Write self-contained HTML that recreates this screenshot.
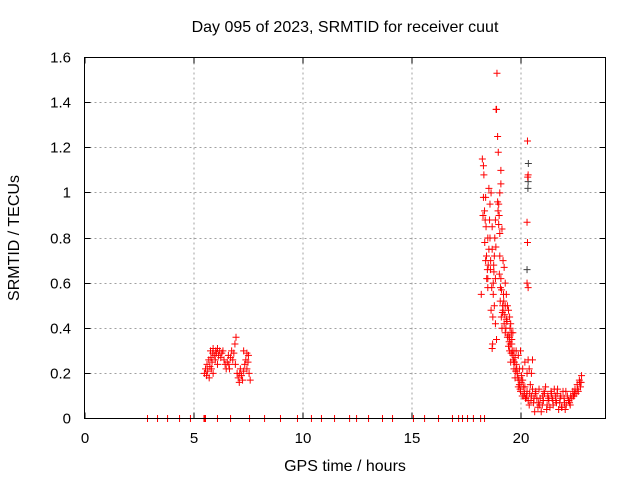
<!DOCTYPE html>
<html><head><meta charset="utf-8"><style>
html,body{margin:0;padding:0;background:#fff;}
svg{display:block;font-family:"Liberation Sans",sans-serif;}
</style></head><body>
<svg id="chart" width="640" height="480" viewBox="0 0 640 480">
<rect width="640" height="480" fill="#fff"/>
<text x="345" y="32" font-size="16" text-anchor="middle">Day 095 of 2023, SRMTID for receiver cuut</text>
<text x="345" y="471" font-size="16" text-anchor="middle">GPS time / hours</text>
<text x="0" y="0" font-size="16" text-anchor="middle" transform="translate(19,238) rotate(-90)">SRMTID / TECUs</text>
<g id="grid"></g><g id="ticks"></g><g id="marks"></g>
<rect x="84.5" y="57.5" width="521" height="361" fill="none" stroke="#000" stroke-width="1"/>
</svg>
<script>
const xTicks=[0,5,10,15,20];
const yTicks=[0,0.2,0.4,0.6,0.8,1,1.2,1.4,1.6];
const yTickLabels=["0","0.2","0.4","0.6","0.8","1","1.2","1.4","1.6"];
const redX=[2.89,3.35,3.81,4.36,4.86,5.48,5.52,5.55,6.1,6.7,7.57,8.26,8.99,9.77,10.41,10.87,11.47,12.16,12.48,13.03,13.67,14.13,15.09,15.6,16.24,16.88,17.16,17.34,17.57,17.84,18.17,18.35,
5.5,5.55,5.6,5.62,5.65,5.7,5.72,5.75,5.78,5.8,5.82,5.85,5.88,5.9,5.95,6.0,6.02,6.05,6.1,6.15,6.2,6.25,6.3,6.35,6.4,6.45,6.5,6.55,6.6,6.62,6.65,6.7,6.75,6.8,6.85,6.9,6.95,6.92,7.0,7.05,7.1,7.12,7.15,7.2,7.25,7.3,7.35,7.4,7.45,7.5,7.52,7.55,7.6,7.3,7.45,6.1,5.9,
18.2,18.25,18.3,18.32,18.35,18.38,18.4,18.42,18.45,18.5,18.52,18.55,18.6,18.62,18.65,18.7,18.72,18.75,18.78,18.8,18.85,18.88,18.9,18.92,18.95,18.98,19.0,19.02,19.05,19.08,19.1,19.12,19.15,19.18,19.2,19.22,19.25,19.3,19.35,19.4,19.45,19.5,19.55,19.58,19.6,19.65,19.7,19.75,19.8,19.85,19.9,19.95,20.0,20.05,20.1,20.15,20.2,20.25,20.3,20.35,
18.95,19.0,19.05,18.7,18.8,18.85,19.2,19.25,19.3,19.35,19.4,19.45,19.5,19.52,19.55,19.6,19.65,19.7,19.75,19.8,18.6,18.65,18.55,19.1,19.05,19.15,18.5,18.4,18.75,18.85,
18.28,18.36,18.44,18.48,18.58,18.63,18.68,18.73,18.77,18.82,18.87,18.97,19.03,19.07,19.13,19.17,19.23,19.28,19.33,19.38,19.43,19.48,19.53,19.57,19.62,19.67,19.72,19.78,19.83,19.88,19.93,19.98,20.03,20.08,20.13,20.18,20.23,20.28,18.3,18.5,18.7,18.9,19.1,19.3,19.5,19.7,
20.32,20.35,20.33,20.3,20.32,20.3,20.35,
20.4,20.5,20.6,20.7,20.8,20.9,21.0,21.1,21.2,21.3,21.4,21.5,21.6,21.7,21.8,21.9,22.0,22.1,22.2,22.3,22.4,22.5,22.6,22.7,22.8,22.75,22.65,20.45,20.55,20.65,20.75,20.85,20.95,21.05,21.15,21.25,21.35,21.45,21.55,21.65,21.75,21.85,21.95,22.05,22.15,22.25,22.35,22.45,22.55,20.2,20.1,20.3,20.4,20.5,20.55,20.35,20.0,19.9,19.95,
20.42,20.62,20.82,21.02,21.22,21.42,21.62,21.82,22.02,22.22,22.42,22.62,22.72,22.78,20.48,20.68,20.88,21.08,21.28,21.48,21.68,21.88,22.08,22.28,22.48];
const redY=[0,0,0,0,0,0,0,0,0,0,0,0,0,0,0,0,0,0,0,0,0,0,0,0,0,0,0,0,0,0,0,0,
.20,.22,.19,.24,.21,.26,.18,.23,.30,.27,.22,.25,.29,.31,.28,.26,.30,.29,.31,.28,.30,.27,.29,.30,.26,.24,.22,.25,.28,.24,.22,.27,.30,.26,.29,.33,.36,.24,.20,.18,.16,.20,.22,.19,.17,.21,.24,.26,.22,.25,.28,.20,.17,.30,.29,.24,.20,
.55,1.15,1.12,1.08,.92,.88,.70,.85,.62,.58,.68,.75,.80,.66,.48,.31,.33,.60,.65,.72,.88,1.37,1.37,1.53,1.25,1.18,.95,.90,.82,.58,.62,.45,.40,.50,.48,.55,.42,.38,.44,.36,.32,.30,.25,.38,.33,.28,.22,.18,.24,.20,.14,.15,.12,.19,.17,.10,.14,.09,.12,.08,
.96,.86,.72,.75,.50,.62,.70,.67,.60,.55,.50,.48,.45,.40,.42,.35,.38,.30,.27,.30,.95,1.00,1.02,1.10,1.00,.84,.80,.98,.55,.42,
.90,.78,.72,.66,.88,.70,.58,.45,.68,.80,.76,.92,.64,.52,.57,.47,.52,.46,.40,.43,.37,.34,.33,.29,.30,.26,.25,.21,.22,.18,.17,.13,.16,.10,.14,.11,.09,.10,.98,.62,.85,.35,1.04,.50,.36,.25,
1.23,1.08,1.07,.87,.78,.60,.58,
.06,.10,.07,.12,.05,.09,.06,.11,.04,.08,.12,.06,.10,.13,.07,.05,.09,.06,.08,.10,.12,.13,.15,.17,.19,.14,.12,.15,.13,.03,.09,.13,.03,.08,.14,.10,.05,.09,.13,.07,.04,.10,.12,.04,.10,.07,.09,.10,.11,.25,.22,.20,.22,.20,.26,.26,.30,.28,.22,
.11,.09,.07,.10,.06,.11,.08,.09,.07,.08,.10,.13,.16,.16,.08,.11,.06,.12,.09,.08,.11,.05,.12,.06,.11];
const greyX=[20.36,20.35,20.34,20.3];
const greyY=[1.13,1.05,1.02,0.66];
const X0=84.5,X1=605.5,Y0=418.5,Y1=57.5;
const xs=v=>X0+v*(21.8);
const ys=v=>Y0-(v/1.6)*(Y0-Y1);
const NS="http://www.w3.org/2000/svg";
function mk(t,a,p){const e=document.createElementNS(NS,t);for(const k in a)e.setAttribute(k,a[k]);p.appendChild(e);return e;}
const grid=document.getElementById('grid'),ticks=document.getElementById('ticks'),marks=document.getElementById('marks');
xTicks.forEach((v,i)=>{const x=Math.round(xs(v));
 if(v>0){const g=mk('line',{x1:x,x2:x,y1:Y1,y2:Y0,stroke:'#a0a0a0','stroke-dasharray':'2,3'},grid);
 
 }
 const t1=mk('line',{x1:x,x2:x,y1:Y0,y2:Y0-6,stroke:'#000'},ticks);
 
 
 const t2=mk('line',{x1:x,x2:x,y1:Y1,y2:Y1+6,stroke:'#000'},ticks);
 
 
 const l=mk('text',{x:x,y:443,'font-size':15,'text-anchor':'middle'},ticks);l.textContent=String(v);
 
 });
yTicks.forEach((v,i)=>{const y=Math.round(ys(v)-0.5)+0.5;
 if(v>0&&v<1.6){const g=mk('line',{x1:X0,x2:X1,y1:y,y2:y,stroke:'#a0a0a0','stroke-dasharray':'2,3'},grid);
 
 }
 const t1=mk('line',{x1:X0,x2:X0+6,y1:y,y2:y,stroke:'#000'},ticks);
 
 
 const t2=mk('line',{x1:X1,x2:X1-6,y1:y,y2:y,stroke:'#000'},ticks);
 
 
 const l=mk('text',{x:71,y:y+5,'font-size':15,'text-anchor':'end'},ticks);l.textContent=yTickLabels[i];
 
 });
function plus(x,y,c,name){const px=xs(x),py=ys(y);
 const p=mk('path',{d:`M${px-3.5} ${py}H${px+3.5}M${px} ${py-3.5}V${py+3.5}`,stroke:c,'stroke-width':1,fill:'none'},marks);
 
 }
greyX.forEach((x,i)=>plus(x,greyY[i],'#404040','grey-point'));
redX.forEach((x,i)=>plus(x,redY[i],'#ff0000','srmtid-point'));
</script>
</body></html>
